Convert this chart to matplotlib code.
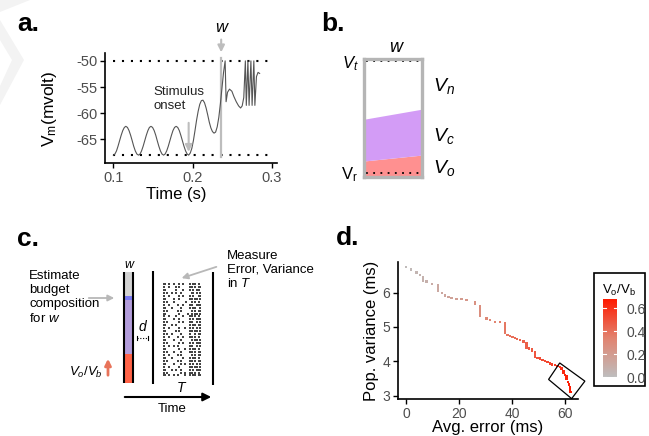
import matplotlib
matplotlib.use('Agg')
import matplotlib.pyplot as plt
import numpy as np
from matplotlib.colors import LinearSegmentedColormap
from matplotlib.patches import Polygon, Rectangle

plt.rcParams['font.family'] = ['Liberation Sans', 'DejaVu Sans']
plt.rcParams['mathtext.fontset'] = 'custom'
plt.rcParams['mathtext.rm'] = 'Liberation Sans'
plt.rcParams['mathtext.it'] = 'Liberation Sans:italic'
plt.rcParams['mathtext.bf'] = 'Liberation Sans:bold'

# ---------------- data ----------------
# panel a: membrane potential trace
osc = [-68.0, -67.79, -67.19, -66.30, -65.25, -64.20, -63.31, -62.71,
       -62.5, -62.71, -63.31, -64.20, -65.25, -66.30, -67.19, -67.79]
t_pre = [0.1000, 0.1020, 0.1040, 0.1059, 0.1079, 0.1099, 0.1119, 0.1139,
         0.1158, 0.1178, 0.1198, 0.1218, 0.1238, 0.1257, 0.1277, 0.1297,
         0.1317, 0.1337, 0.1356, 0.1376, 0.1396, 0.1416, 0.1436, 0.1455,
         0.1475, 0.1495, 0.1515, 0.1535, 0.1554, 0.1574, 0.1594, 0.1614,
         0.1634, 0.1653, 0.1673, 0.1693, 0.1713, 0.1733, 0.1752, 0.1772,
         0.1792, 0.1812, 0.1832, 0.1851, 0.1871, 0.1891, 0.1911, 0.1931]
v_pre = osc + osc + osc
t_post = [0.1950, 0.1970, 0.1990, 0.2010, 0.2030, 0.2050, 0.2070, 0.2090,
          0.2110, 0.2130, 0.2150, 0.2170, 0.2190, 0.2210, 0.2230, 0.2250,
          0.2270, 0.2290, 0.2310, 0.2330, 0.2350, 0.2370, 0.2390, 0.2410,
          0.2422, 0.2440, 0.2465, 0.2495, 0.2520, 0.2550, 0.2580, 0.2605,
          0.2625, 0.2645, 0.2665, 0.2677, 0.2697, 0.2712, 0.2735, 0.2750,
          0.2772, 0.2785, 0.2805, 0.2825, 0.2845]
v_post = [-68.0, -67.6, -66.7, -65.2, -63.3, -61.3, -59.6, -58.3,
          -57.6, -57.5, -58.0, -59.0, -60.3, -61.7, -62.8, -63.5,
          -63.8, -63.6, -62.6, -60.8, -58.2, -55.2, -52.2, -50.0,
          -57.8, -56.0, -55.4, -55.8, -56.8, -57.8, -58.6, -59.0,
          -58.6, -57.0, -50.0, -58.5, -50.0, -58.5, -50.0, -58.5,
          -50.0, -58.5, -53.0, -52.2, -52.4]
t_a = t_pre + t_post
v_a = v_pre + v_post
v_thresh, v_reset = -50.0, -68.0
t_stim, t_w = 0.195, 0.236

# panel b: budget composition (fraction of Vr..Vt), left and right edge
b_x = [0.0, 1.0]
b_own_top = [0.107, 0.16]
b_cor_top = [0.48, 0.57]

# panel c: budget bar composition (bottom to top)
c_fracs = [0.26, 0.49, 0.03, 0.22]
c_colors = ['#ff6347', '#b39ddb', '#7a7af2', '#d3d3d3']
raster = [
    "##.#..#..#.#...#.##.#.", "#..#...#.#.....##.#.##", "##.....#...#...#.#.##.",
    "#.#..#.#..#.....##.#.#", "#..#.....#.#...#.#..##", "##....#..#.....##.##.#",
    "#.#...#......#..#.#.#.", "#..#....#..#...##..###", "##...#....#....#.##..#",
    "#.#.....#.#.....#.#.##", "##.......#....#.#.##.#", "#..#...#...#...##.#.#.",
    "##....#..#.....#.#.###", "#.#......#.#...##..#.#", "##...#.#.......#.##.##",
    "#..#.....#..#..#.#.#.#", "##.....#.#.....##.##.#", "#.#..#....#....#..#.##",
    "#..#....#..#...##.#.#.", "##....#...#.....#.##.#", "#.#......#.#...#.#.###",
    "#..#..#.#......##..#.#", "##.......#..#..#.##.#.", "#.#...#...#....##.#.##",
    "#..#....#.#.....#.#.##", "##...#.....#...#.##.#.", "#.#.....#.#....##.#.##",
    "##....#...#.#..#.#.#.#", "#..#.....#.....##.##.#", "##...#.#..#....#.#.###",
    "#.#.......#.#..##.#.#.", "##.#..#.#...#..#.##.##"]

# panel d: population variance vs average error, coloured by Vo/Vb
err_d = [0.0, 2.0, 4.0, 5.3, 6.5, 6.5, 6.5, 7.8, 9.9, 12.0,
         12.0, 12.0, 12.0, 13.5, 14.7, 16.0, 17.2, 19.1, 21.0, 22.9,
         26.0, 26.0, 27.9, 27.9, 27.9, 27.9, 27.9, 30.4, 31.7, 33.6,
         35.5, 37.4, 37.4, 37.4, 37.4, 37.4, 38.3, 39.2, 40.2, 41.1,
         42.0, 43.0, 44.3, 45.5, 45.5, 45.5, 46.5, 47.5, 47.5, 48.7,
         48.7, 48.7, 49.6, 50.6, 51.5, 52.5, 53.4, 54.3, 55.2, 56.2,
         57.1, 58.1, 58.6, 59.4, 59.4, 60.0, 60.6, 60.6, 61.2, 61.5,
         61.9, 61.9, 62.0]
var_d = [6.75, 6.67, 6.59, 6.52, 6.45, 6.40, 6.35, 6.32, 6.25, 6.22,
         6.16, 6.10, 6.05, 5.98, 5.92, 5.87, 5.84, 5.82, 5.81, 5.78,
         5.71, 5.66, 5.59, 5.52, 5.45, 5.38, 5.31, 5.25, 5.20, 5.15,
         5.14, 5.11, 5.04, 4.97, 4.90, 4.83, 4.77, 4.74, 4.70, 4.67,
         4.64, 4.62, 4.57, 4.53, 4.46, 4.40, 4.37, 4.34, 4.29, 4.25,
         4.18, 4.12, 4.10, 4.08, 4.04, 4.00, 3.97, 3.94, 3.91, 3.89,
         3.86, 3.84, 3.79, 3.72, 3.66, 3.60, 3.55, 3.48, 3.40, 3.32,
         3.24, 3.17, 3.10]
ratio_d = [0.02, 0.03, 0.05, 0.06, 0.07, 0.07, 0.07, 0.08, 0.10,
           0.12, 0.12, 0.12, 0.12,
           0.13, 0.14, 0.15, 0.16, 0.18, 0.20, 0.22,
           0.25, 0.25, 0.27, 0.27, 0.27, 0.27, 0.27,
           0.30, 0.31, 0.33, 0.35,
           0.37, 0.37, 0.37, 0.37, 0.37,
           0.38, 0.39, 0.40, 0.41, 0.42, 0.43, 0.44,
           0.45, 0.45, 0.45, 0.46, 0.47, 0.47, 0.48, 0.48, 0.48,
           0.49, 0.50, 0.51, 0.52, 0.53, 0.54, 0.55, 0.56, 0.57, 0.58,
           0.60, 0.62, 0.62, 0.63, 0.64, 0.64, 0.65, 0.65, 0.66, 0.66, 0.67]
d_box = [(53.8, 3.47), (58.0, 3.95), (67.5, 3.42), (62.5, 2.91)]
cbar_ticks = [0.0, 0.2, 0.4, 0.6]

# ---------------- figure ----------------
W, H = 649, 436
fig = plt.figure(figsize=(W / 100, H / 100), dpi=100)


def rect(x0, y0, x1, y1):
    return [x0 / W, 1 - y1 / H, (x1 - x0) / W, (y1 - y0) / H]


ov = fig.add_axes([0, 0, 1, 1])
ov.set_xlim(0, W)
ov.set_ylim(H, 0)
ov.axis('off')

# faint watermark shapes
ov.add_patch(Polygon([(0, 0), (30, 0), (0, 12)], closed=True, fc='#f3f3f3', ec='none', zorder=0))
ov.add_patch(Polygon([(0, 20), (24, 60), (0, 105), (0, 86), (12, 60), (0, 40)],
                     closed=True, fc='#f3f3f3', ec='none', zorder=0))

tick_gray = '#4d4d4d'

# ---- panel a ----
ax = fig.add_axes(rect(105, 53, 277, 163))
ax.patch.set_alpha(0)
ax.set_xlim(0.0895, 0.3064)
ax.set_ylim(-69.5, -48.5)
for s in ['top', 'right']:
    ax.spines[s].set_visible(False)
for s in ['left', 'bottom']:
    ax.spines[s].set_linewidth(1.2)
ax.set_xticks([0.1, 0.2, 0.3])
ax.set_xticklabels(['0.1', '0.2', '0.3'])
ax.set_yticks([-65, -60, -55, -50])
ax.set_yticklabels(['-65', '-60', '-55', '-50'])
ax.tick_params(length=3.5, width=1, labelsize=10.5, labelcolor=tick_gray, pad=2)
ax.plot([0.1, 0.3], [v_thresh, v_thresh], color='k', lw=1.5, ls=(0, (1, 3.3)))
ax.plot([0.1, 0.3], [v_reset, v_reset], color='k', lw=1.5, ls=(0, (1, 3.3)))
ax.plot([t_w, t_w], [-49.5, -68.4], color='#bdbdbd', lw=1.6)
ax.plot(t_a, v_a, color='#555555', lw=0.8)
ax.annotate('', xy=(t_stim, -67.9), xytext=(t_stim, -61.3),
            arrowprops=dict(arrowstyle='-|>', color='#bdbdbd', lw=1.5, mutation_scale=10))
ax.annotate('', xy=(t_w, -48.9), xytext=(t_w, -45.4), annotation_clip=False,
            arrowprops=dict(arrowstyle='-|>', color='#bdbdbd', lw=1.5, mutation_scale=10))
ax.text(t_w, -43.6, 'w', style='italic', fontsize=12, ha='center', va='center', clip_on=False)
ax.set_xlabel('Time (s)', fontsize=12)
ax.xaxis.set_label_coords(0.417, -0.29)
ax.xaxis.label.set_va('center')
ax.set_ylabel('V$_\\mathrm{m}$(mvolt)', fontsize=12.5)
ax.yaxis.set_label_coords(-0.32, 0.49)
ax.yaxis.label.set_va('center')
ov.text(153, 86, 'Stimulus\nonset', fontsize=9.5, va='top', ha='left', linespacing=1.2, color='#222222')

# ---- panel b ----
axb = fig.add_axes(rect(364, 59, 422, 177))
axb.set_xlim(0, 1)
axb.set_ylim(-0.036, 1.018)
axb.fill_between(b_x, -0.036, b_own_top, color='#ff9090', lw=0)
axb.fill_between(b_x, b_own_top, b_cor_top, color='#d39cf6', lw=0)
axb.plot([0.04, 0.96], [1, 1], color='k', lw=1.3, ls=(0, (1, 3)))
axb.plot([0.04, 0.96], [0, 0], color='k', lw=1.3, ls=(0, (1, 3)))
axb.set_xticks([])
axb.set_yticks([])
for s in axb.spines.values():
    s.set_color('#b5b5b5')
    s.set_linewidth(2.4)
ov.text(396, 48, 'w', style='italic', fontsize=13, ha='center', va='center')
ov.text(359, 64, '$V_t$', fontsize=12, ha='right', va='center')
ov.text(358, 175, 'V$_\\mathrm{r}$', fontsize=12, ha='right', va='center')
ov.text(433, 86, '$V_n$', fontsize=14, ha='left', va='center')
ov.text(433, 136, '$V_c$', fontsize=14, ha='left', va='center')
ov.text(433, 168, '$V_o$', fontsize=14, ha='left', va='center')

# ---- panel c ----
c_top, c_bot = 272, 383
c_h = c_bot - c_top
bottom = c_bot
for f, col in zip(c_fracs, c_colors):
    ov.bar(128.5, -f * c_h, bottom=bottom, width=7, color=col, lw=0)
    bottom -= f * c_h
ov.vlines([124, 133], c_top, c_bot, colors='k', lw=1.5)
ov.vlines([152.7], 271, 384, colors='k', lw=1.5)
ov.vlines([213], 272, 385, colors='k', lw=1.5)
rx, ry = [], []
for r, row in enumerate(raster):
    for c, ch in enumerate(row):
        if ch == '#':
            rx.append(163.5 + c * 1.75)
            ry.append(284 + r * 2.95)
ov.scatter(rx, ry, s=0.6, marker='s', color='#444444', lw=0)
ov.text(128.5, 265, 'w', style='italic', fontsize=9, ha='center', va='center')
ov.text(142.5, 327, 'd', style='italic', fontsize=10, ha='center', va='center')
ov.plot([137, 148], [338, 338], color='k', lw=0.8, ls=(0, (1, 1.5)))
ov.plot([137, 137], [336, 340], color='k', lw=0.8)
ov.plot([148, 148], [336, 340], color='k', lw=0.8)
ov.text(181, 388, 'T', style='italic', fontsize=10, ha='center', va='center')
ov.annotate('', xy=(214, 397), xytext=(122, 397),
            arrowprops=dict(arrowstyle='-|>', color='k', lw=1.5, mutation_scale=12))
ov.text(172, 409, 'Time', fontsize=9.5, ha='center', va='center')
ov.text(29, 270, 'Estimate\nbudget\ncomposition\nfor $w$', fontsize=9.5, ha='left', va='top', linespacing=1.2)
ov.annotate('', xy=(117, 298), xytext=(86, 298),
            arrowprops=dict(arrowstyle='-|>', color='#b8b8b8', lw=1.3, mutation_scale=9))
ov.text(227, 250, 'Measure\nError, Variance\nin $T$', fontsize=9.5, ha='left', va='top', linespacing=1.15)
ov.annotate('', xy=(179, 279), xytext=(219, 266),
            arrowprops=dict(arrowstyle='-|>', color='#b8b8b8', lw=1.3, mutation_scale=9))
ov.text(103, 372, '$V_o/V_b$', fontsize=9.5, ha='right', va='center')
ov.annotate('', xy=(108, 356), xytext=(108, 378),
            arrowprops=dict(arrowstyle='-|>', color='#e8735a', lw=2, mutation_scale=9))

# ---- panel d ----
cmap = LinearSegmentedColormap.from_list('gr', ['#bebebe', '#e2836f', '#ff1a00'])
vmin, vmax = 0.0, 0.67
axd = fig.add_axes(rect(398, 261.7, 578, 399))
axd.patch.set_alpha(0)
axd.set_xlim(-3, 64.9)
axd.set_ylim(2.9, 6.9)
for s in ['top', 'right']:
    axd.spines[s].set_visible(False)
for s in ['left', 'bottom']:
    axd.spines[s].set_linewidth(1.2)
axd.scatter(err_d, var_d, c=ratio_d, cmap=cmap, vmin=vmin, vmax=vmax,
            s=3.0, marker='s', lw=0)
axd.set_xticks([0, 20, 40, 60])
axd.set_yticks([3, 4, 5, 6])
axd.tick_params(length=3.5, width=1, labelsize=10, labelcolor=tick_gray, pad=2)
axd.add_patch(Polygon(d_box, closed=True, fill=False, ec='k', lw=0.9, clip_on=False))
axd.set_xlabel('Avg. error (ms)', fontsize=12)
axd.xaxis.set_label_coords(0.497, -0.211)
axd.xaxis.label.set_va('center')
axd.set_ylabel('Pop. variance (ms)', fontsize=12)
axd.yaxis.set_label_coords(-0.146, 0.497)
axd.yaxis.label.set_va('center')

cax = fig.add_axes(rect(603, 299, 617, 378))
cax.imshow(np.linspace(vmin, vmax, 256)[:, None], aspect='auto', cmap=cmap,
           origin='lower', extent=[0, 1, vmin, vmax])
cax.set_xlim(0, 1)
cax.set_ylim(-0.005, 0.678)
cax.set_xticks([])
cax.yaxis.tick_right()
cax.set_yticks(cbar_ticks)
cax.set_yticklabels(['%.1f' % v for v in cbar_ticks])
cax.tick_params(length=0, pad=7, labelsize=10, labelcolor=tick_gray)
for s in cax.spines.values():
    s.set_visible(False)
for v in cbar_ticks:
    cax.axhline(v, 0, 0.2, color='white', lw=0.8)
    cax.axhline(v, 0.8, 1, color='white', lw=0.8)
ov.add_patch(Rectangle((594, 273), 51, 113, fill=False, ec='k', lw=1.2))
ov.text(602, 290, 'V$_\\mathrm{o}$/V$_\\mathrm{b}$', fontsize=9.5, ha='left', va='center')

# ---- panel labels ----
for lab, x, y in [('a.', 17, 31), ('b.', 321, 31), ('c.', 17, 246), ('d.', 336, 245)]:
    ov.text(x, y, lab, fontsize=19, fontweight='bold', ha='left', va='baseline')

fig.savefig('out.png', dpi=100)
